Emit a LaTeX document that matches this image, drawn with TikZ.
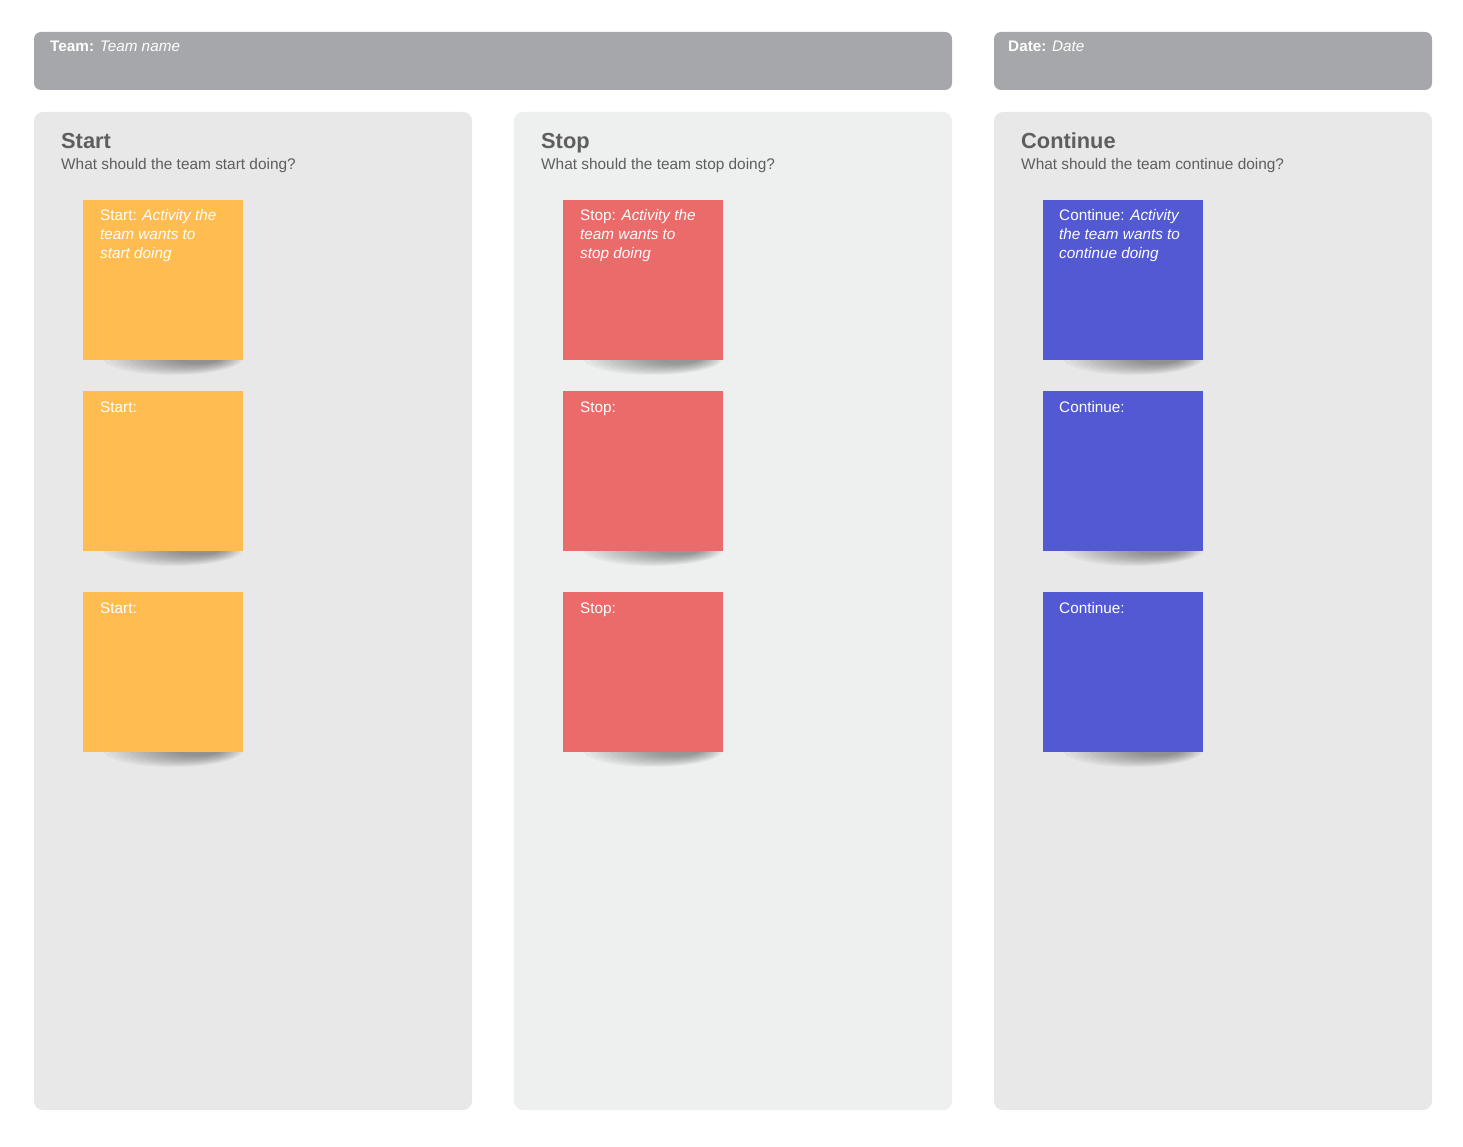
\documentclass[tikz,border=0pt]{standalone}
\usepackage{fontspec}
\setmainfont{Liberation Sans}
\definecolor{hdr}{HTML}{A6A7AA}
\definecolor{colA}{HTML}{E8E8E8}
\definecolor{colB}{HTML}{EEEFEF}
\definecolor{ttl}{HTML}{5E5E5E}
\definecolor{startc}{HTML}{FFBC50}
\definecolor{stopc}{HTML}{EB6B6B}
\definecolor{contc}{HTML}{5359D3}
\newcommand{\notelines}[1]{\begin{tabular}[t]{@{}l@{}}#1\end{tabular}}
\tikzset{
  x=1pt,y=-1pt,
  hdrbox/.style={fill=hdr,rounded corners=7pt},
  colbox/.style={rounded corners=9pt},
  hdrtext/.style={anchor=base west,inner sep=0pt,text=white,font=\fontsize{15.3}{17}\selectfont},
  titletext/.style={anchor=base west,inner sep=0pt,text=ttl,font=\fontsize{21.8}{24}\selectfont\bfseries},
  subtext/.style={anchor=base west,inner sep=0pt,text=ttl,font=\fontsize{15.4}{17}\selectfont},
  shadowlayer/.style={fill=black,opacity=0.035},
  notetext/.style={anchor=base west,inner sep=0pt,text=white,font=\fontsize{15.3}{18.6}\selectfont},
}
\begin{document}
\begin{tikzpicture}
\useasboundingbox (0,0) rectangle (1463,1147);
\fill[white] (0,0) rectangle (1463,1147);
% headers
\fill[hdrbox] (34,32) rectangle (952,90);
\fill[hdrbox] (994,32) rectangle (1432,90);
\node[hdrtext] (team) at (50,52) {\textbf{Team:} \textit{Team name}};
\node[hdrtext] (date) at (1008,52) {\textbf{Date:} \textit{Date}};
% columns
\fill[colbox,fill=colA] (34,112) rectangle (472,1110);
\fill[colbox,fill=colB] (514,112) rectangle (952,1110);
\fill[colbox,fill=colA] (994,112) rectangle (1432,1110);
\node[titletext] (t1) at (61,149) {Start};
\node[subtext] (s1) at (61,170) {What should the team start doing?};
\node[titletext] (t2) at (541,149) {Stop};
\node[subtext] (s2) at (541,170) {What should the team stop doing?};
\node[titletext] (t3) at (1021,149) {Continue};
\node[subtext] (s3) at (1021,170) {What should the team continue doing?};
% notes with soft shadows
\foreach \x/\c in {83/startc,563/stopc,1043/contc}{
  \foreach \y in {200,391,592}{
    \foreach \i in {0,...,11}{
      \fill[shadowlayer] (\x+90+\i*2.2,\y+158) ellipse ({70-\i*4.2} and {17-\i*1.0});
    }
    \fill[fill=\c] (\x,\y) rectangle ++(160,160);
  }
}
\node[notetext] (a1) at (100,221) {\notelines{Start: \textit{Activity the}\\\textit{team wants to}\\\textit{start doing}}};
\node[notetext] (a2) at (100,412) {Start:};
\node[notetext] (a3) at (100,613) {Start:};
\node[notetext] (b1) at (580,221) {\notelines{Stop: \textit{Activity the}\\\textit{team wants to}\\\textit{stop doing}}};
\node[notetext] (b2) at (580,412) {Stop:};
\node[notetext] (b3) at (580,613) {Stop:};
\node[notetext] (c1) at (1059,221) {\notelines{Continue: \textit{Activity}\\\textit{the team wants to}\\\textit{continue doing}}};
\node[notetext] (c2) at (1059,412) {Continue:};
\node[notetext] (c3) at (1059,613) {Continue:};
\end{tikzpicture}
\end{document}
